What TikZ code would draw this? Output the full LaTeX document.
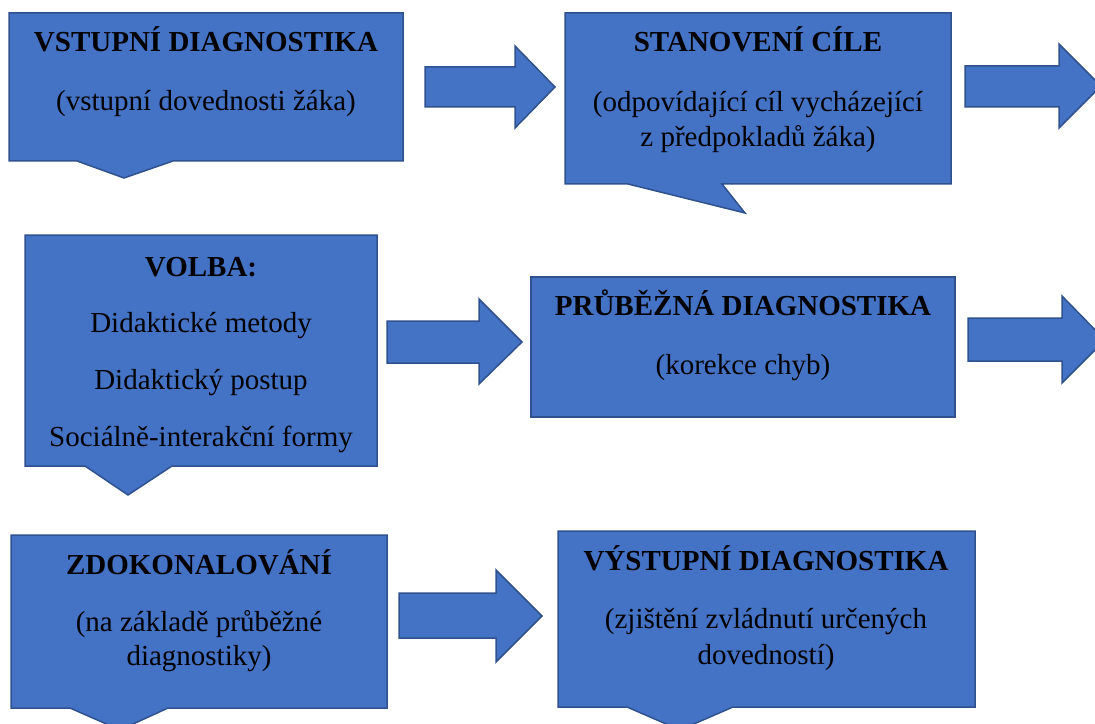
\documentclass[tikz,border=0pt]{standalone}
\usepackage{fontspec}
\setmainfont{Liberation Serif}
\definecolor{modra}{HTML}{4472C4}
\definecolor{okraj}{HTML}{2F528F}
\tikzset{
  blok/.style={fill=modra, draw=okraj, line width=1.5bp, line join=miter},
  nadpis/.style={anchor=base, inner sep=0pt, font=\fontsize{29bp}{35bp}\selectfont\bfseries},
  popis/.style={anchor=base, inner sep=0pt, font=\fontsize{29bp}{35bp}\selectfont}
}

\begin{document}
\begin{tikzpicture}[x=1bp, y=-1bp]
  \useasboundingbox (0,0) rectangle (1095,724);
  \clip (0,0) rectangle (1095,724);
  % bubliny
  \filldraw[blok] (9,13) -- (403,13) -- (403,161) -- (173,161) -- (124,178) -- (77,161) -- (9,161) -- cycle;
  \filldraw[blok] (565,13) -- (951,13) -- (951,184) -- (722,184) -- (745,213) -- (628,184) -- (565,184) -- cycle;
  \filldraw[blok] (25,235) -- (377,235) -- (377,466) -- (172,466) -- (128,495) -- (85,466) -- (25,466) -- cycle;
  \filldraw[blok] (531,277) rectangle (955,417);
  \filldraw[blok] (11,535) -- (387,535) -- (387,708) -- (168,708) -- (120,730) -- (70,708) -- (11,708) -- cycle;
  \filldraw[blok] (558,531) -- (975,531) -- (975,707) -- (733,707) -- (680,730) -- (627,707) -- (558,707) -- cycle;
  % sipky
  \filldraw[blok] (425,67) -- (515,67) -- (515,46) -- (555,87) -- (515,128) -- (515,107) -- (425,107) -- cycle;
  \filldraw[blok] (965,66) -- (1059,66) -- (1059,44) -- (1101,86) -- (1059,128) -- (1059,107) -- (965,107) -- cycle;
  \filldraw[blok] (387,321) -- (479,321) -- (479,299) -- (522,342) -- (479,384) -- (479,363) -- (387,363) -- cycle;
  \filldraw[blok] (968,318) -- (1062,318) -- (1062,296) -- (1105,340) -- (1062,383) -- (1062,361) -- (968,361) -- cycle;
  \filldraw[blok] (399,593) -- (496,593) -- (496,570) -- (542,616) -- (496,662) -- (496,638) -- (399,638) -- cycle;
  % texty
  \node[nadpis] (vstup) at (206,52) {VSTUPNÍ DIAGNOSTIKA};
  \node[popis] (vstupA) at (206,111) {(vstupní dovednosti žáka)};
  \node[nadpis] (cil) at (758,52) {STANOVENÍ CÍLE};
  \node[popis] (cilA) at (758,112) {(odpovídající cíl vycházející};
  \node[popis] (cilB) at (758,147) {z předpokladů žáka)};
  \node[nadpis] (volba) at (201,276) {VOLBA:};
  \node[popis] (volbaA) at (201,332) {Didaktické metody};
  \node[popis] (volbaB) at (201,389) {Didaktický postup};
  \node[popis] (volbaC) at (201,446) {Sociálně-interakční formy};
  \node[nadpis] (prub) at (743,315) {PRŮBĚŽNÁ DIAGNOSTIKA};
  \node[popis] (prubA) at (743,374) {(korekce chyb)};
  \node[nadpis] (zdok) at (199,574) {ZDOKONALOVÁNÍ};
  \node[popis] (zdokA) at (199,631) {(na základě průběžné};
  \node[popis] (zdokB) at (199,665) {diagnostiky)};
  \node[nadpis] (vystup) at (766,570) {VÝSTUPNÍ DIAGNOSTIKA};
  \node[popis] (vystupA) at (766,628) {(zjištění zvládnutí určených};
  \node[popis] (vystupB) at (766,664) {dovedností)};
\end{tikzpicture}
\end{document}
